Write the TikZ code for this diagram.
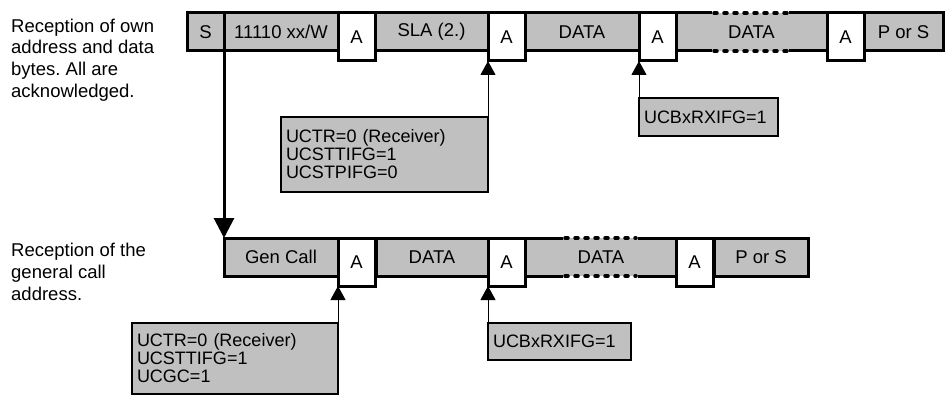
\documentclass[tikz,border=0pt]{standalone}
\usepackage{fontspec}
\setmainfont{Liberation Sans}
\usetikzlibrary{arrows.meta}
\definecolor{fieldgray}{RGB}{192,192,192}
\frenchspacing
\begin{document}
\begin{tikzpicture}[x=1pt,y=-1pt,font=\fontsize{18}{18}\selectfont,
  field/.style={draw,fill=fieldgray,line width=3pt,minimum height=38pt,inner sep=0pt,outer sep=0pt,anchor=north west,font=\fontsize{18.5}{18}\selectfont},
  ack/.style={draw,fill=white,line width=3pt,minimum height=48pt,minimum width=37pt,inner sep=0pt,outer sep=0pt,anchor=north west,font=\fontsize{18.5}{18}\selectfont},
  info/.style={draw,fill=fieldgray,line width=2.5pt,align=left,inner xsep=5pt,inner ysep=0pt,outer sep=0pt,anchor=north west},
  note/.style={anchor=north west,align=left,inner sep=0pt,font=\fontsize{18.5}{21.7}\selectfont},
  flag/.style={-{Triangle[width=15pt,length=14pt]},line width=1pt},
  dotline/.style={draw=black,line width=3.5pt,dash pattern=on 3pt off 7pt,line cap=round}]
\useasboundingbox (0,0) rectangle (948,396);
\node[note] (own) at (11,18.5) {Reception of own\\address and data\\bytes. All are\\acknowledged.};
\node[note] (gencall) at (11,243) {Reception of the\\general call\\address.};
% own address
\foreach \n/\x/\w/\t in {s/187/37/S, addr/224/114/{11110 xx/W}, sla/375/113/{SLA (2.)}, data1/525/114/DATA, pors1/864/79/{P or S}}
  \node[field,minimum width=\w pt] (\n) at (\x,13) {\t};
\node[field,draw=none,minimum width=151pt] (data2) at (676,13) {DATA};
\draw[line width=3pt] (data2.north west) -- ++(36,0) (data2.north east) -- ++(-38,0)
  (data2.south west) -- ++(36,0) (data2.south east) -- ++(-38,0);
\draw[dotline] ([xshift=38pt]data2.north west) -- ([xshift=-40pt]data2.north east)
  ([xshift=38pt]data2.south west) -- ([xshift=-40pt]data2.south east);
\foreach \n/\x in {a1/338, a2/488, a3/639, a4/827}
  \node[ack] (\n) at (\x,13) {A};
% general call
\foreach \n/\x/\w/\t in {gen/224/114/{Gen Call}, bd1/376/112/DATA, bpors/714/94/{P or S}}
  \node[field,minimum width=\w pt] (\n) at (\x,238) {\t};
\node[field,draw=none,minimum width=150pt] (bd2) at (526,238) {DATA};
\draw[line width=3pt] (bd2.north west) -- ++(37,0) (bd2.north east) -- ++(-38,0)
  (bd2.south west) -- ++(37,0) (bd2.south east) -- ++(-38,0);
\draw[dotline] ([xshift=39pt]bd2.north west) -- ([xshift=-40pt]bd2.north east)
  ([xshift=39pt]bd2.south west) -- ([xshift=-40pt]bd2.south east);
\foreach \n/\x in {b1/338, b2/488, b3/676}
  \node[ack] (\n) at (\x,238) {A};
\draw[line width=3pt,-{Triangle[width=20pt,length=20pt]}] (s.south east) -- (gen.north west);
% flags
\node[info,text width=197pt,minimum height=75pt] (ctl1) at (281,117) {UCTR=0 (Receiver)\\UCSTTIFG=1\\UCSTPIFG=0};
\node[info,text width=129pt,minimum height=38pt] (rx1) at (639,98) {UCBxRXIFG=1};
\node[info,text width=196pt,minimum height=71pt] (ctl2) at (132,323) {UCTR=0 (Receiver)\\UCSTTIFG=1\\UCGC=1};
\node[info,text width=133pt,minimum height=37pt] (rx2) at (488,323) {UCBxRXIFG=1};
\draw[flag] (ctl1.north east) -- (a2.south west);
\draw[flag] (rx1.north west) -- (a3.south west);
\draw[flag] (ctl2.north east) -- (b1.south west);
\draw[flag] (rx2.north west) -- (b2.south west);
\end{tikzpicture}
\end{document}
